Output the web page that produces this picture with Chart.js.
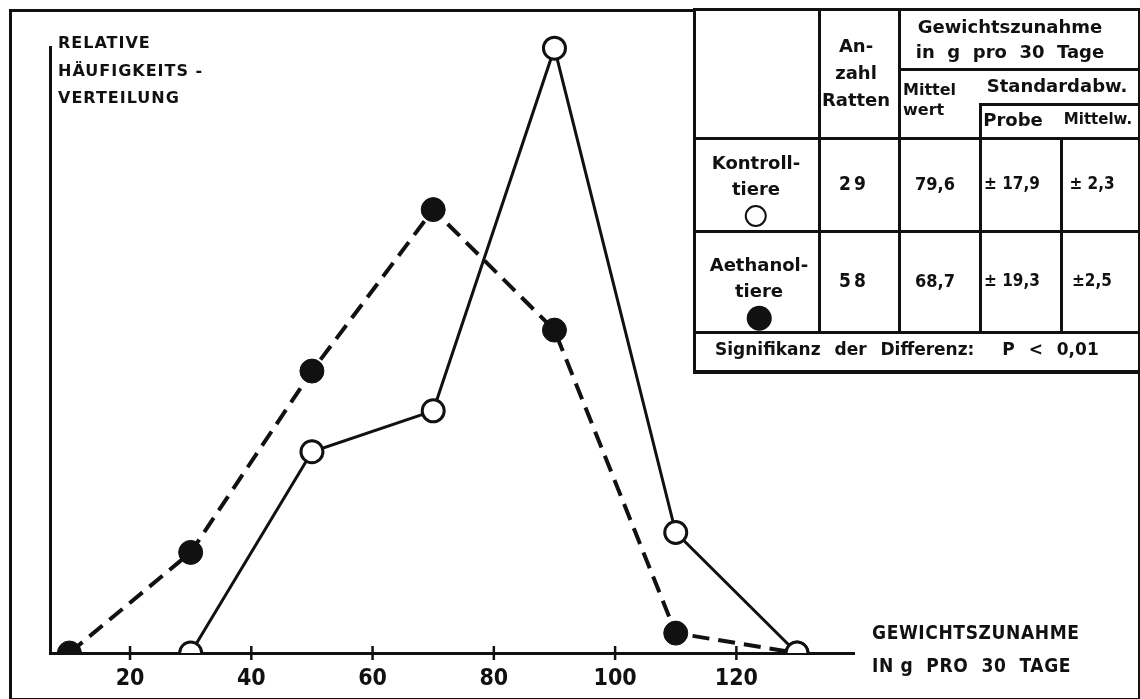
<!DOCTYPE html>
<html>
<head>
<meta charset="utf-8">
<script src="https://cdn.jsdelivr.net/npm/chart.js@4/dist/chart.umd.min.js"></script>
<style>
  html, body { margin: 0; padding: 0; background: #fff; }
  body { width: 1140px; height: 699px; position: relative; overflow: hidden;
         font-family: 'DejaVu Sans', sans-serif; font-weight: bold; color: #111; }
  #wrap { position: absolute; left: 0; top: 0; width: 1140px; height: 699px; }
  #frame { position: absolute; left: 9px; top: 9px; width: 1126px; height: 686px; border: 3px solid #111; pointer-events: none; }
  .lbl { position: absolute; white-space: pre; line-height: 1; }
  .ylab { left: 58px; top: 29px; font-size: 16px; line-height: 27.5px; letter-spacing: 1px; }
  .xlab { left: 872px; top: 616px; font-size: 19px; line-height: 33px; letter-spacing: 0.6px;
          font-family: 'DejaVu Sans Condensed', 'Liberation Sans Narrow', sans-serif; }
  #tab { position: absolute; left: 693px; top: 8px; width: 442px; height: 359px; border: 3px solid #111; border-bottom-width: 4px; background: #fff; }
  .v { position: absolute; width: 3px; background: #111; }
  .h { position: absolute; height: 3px; background: #111; }
  .c { position: absolute; transform: translate(-50%, -50%); text-align: center; white-space: pre; font-size: 18px; line-height: 25px; }
  .c.n { font-family: 'DejaVu Sans Condensed', 'Liberation Sans Narrow', sans-serif; font-size: 18px; }
  .l { position: absolute; white-space: pre; font-size: 16px; line-height: 20px; }
  .open { display: inline-block; width: 22px; height: 22px; border: 2.5px solid #111; border-radius: 50%; box-sizing: border-box; background: #fff; vertical-align: middle; }
  .fill { display: inline-block; width: 25px; height: 25px; border-radius: 50%; background: #111; vertical-align: middle; }
</style>
</head>
<body>
<div id="wrap"><canvas id="chart" width="1140" height="699"></canvas></div>
<div id="frame"></div>

<div class="lbl ylab">RELATIVE
HÄUFIGKEITS -
VERTEILUNG</div>
<div class="lbl xlab">GEWICHTSZUNAHME
IN g  PRO  30  TAGE</div>

<div id="tab">
  <div class="v" style="left:122px; top:0; height:321px"></div>
  <div class="v" style="left:202px; top:0; height:321px"></div>
  <div class="v" style="left:283px; top:92px; height:229px"></div>
  <div class="v" style="left:364px; top:126px; height:195px"></div>
  <div class="h" style="left:202px; top:57px; width:240px"></div>
  <div class="h" style="left:283px; top:92px; width:159px"></div>
  <div class="h" style="left:0; top:126px; width:442px"></div>
  <div class="h" style="left:0; top:219px; width:442px"></div>
  <div class="h" style="left:0; top:320px; width:442px"></div>

  <div class="c" style="left:160px; top:61px; line-height:27px">An-
zahl
Ratten</div>
  <div class="c" style="left:314px; top:28px">Gewichtszunahme
in  g  pro  30  Tage</div>
  <div class="l" style="left:207px; top:69px">Mittel
wert</div>
  <div class="c" style="left:361px; top:74px">Standardabw.</div>
  <div class="c" style="left:317px; top:108px">Probe</div>
  <div class="c" style="left:402px; top:108px; font-size:15px">Mittelw.</div>

  <div class="c" style="left:60px; top:178px; line-height:26px">Kontroll-
tiere
<span class="open"></span></div>
  <div class="c n" style="left:158px; top:172px; font-size:19px; letter-spacing:3px">29</div>
  <div class="c n" style="left:239px; top:172px">79,6</div>
  <div class="c n" style="left:316px; top:172px; font-size:17px">± 17,9</div>
  <div class="c n" style="left:396px; top:172px; font-size:17px">± 2,3</div>

  <div class="c" style="left:63px; top:280px; line-height:26px">Aethanol-
tiere
<span class="fill"></span></div>
  <div class="c n" style="left:158px; top:269px; font-size:19px; letter-spacing:3px">58</div>
  <div class="c n" style="left:239px; top:269px">68,7</div>
  <div class="c n" style="left:316px; top:269px; font-size:17px">± 19,3</div>
  <div class="c n" style="left:396px; top:269px; font-size:17px">±2,5</div>

  <div class="l" style="left:19px; top:328px; font-size:17px; line-height:21px; word-spacing:8px">Signifikanz der Differenz:  P &lt; 0,01</div>
</div>

<script>
// weight gain classes (g per 30 days) and relative frequency (%)
const weightClasses = [10, 30, 50, 70, 90, 110, 130];
const kontrollValues = [null, 0, 17.2, 20.7, 51.7, 10.3, 0];
const aethanolValues = [0, 8.6, 24.1, 37.9, 27.6, 1.7, 0];
const xTickValues = [20, 40, 60, 80, 100, 120];

const FONT = "'DejaVu Sans Condensed', 'Liberation Sans Narrow', sans-serif";

function toPoints(values) {
  return weightClasses
    .map((x, i) => ({ x: x, y: values[i] }))
    .filter(p => p.y !== null);
}

// small tick marks crossing the x axis line
const crossTicks = {
  id: 'crossTicks',
  afterDraw(chart) {
    const xs = chart.scales.x;
    const y = chart.chartArea.bottom;
    const ctx = chart.ctx;
    ctx.save();
    ctx.strokeStyle = '#111';
    ctx.lineWidth = 2.5;
    xs.ticks.forEach(t => {
      const px = xs.getPixelForValue(t.value);
      ctx.beginPath();
      ctx.moveTo(px, y - 7);
      ctx.lineTo(px, y + 7);
      ctx.stroke();
    });
    ctx.restore();
  }
};

// points sitting on the axis show only their upper half
const cutAtAxis = {
  id: 'cutAtAxis',
  beforeDatasetDraw(chart) {
    const ctx = chart.ctx;
    ctx.save();
    ctx.beginPath();
    ctx.rect(0, 0, chart.width, chart.chartArea.bottom);
    ctx.clip();
  },
  afterDatasetDraw(chart) {
    chart.ctx.restore();
  }
};

new Chart(document.getElementById('chart'), {
  type: 'line',
  data: {
    datasets: [
      {
        label: 'Kontrolltiere',
        data: toPoints(kontrollValues),
        borderColor: '#111',
        borderWidth: 3,
        pointRadius: 11,
        pointBorderWidth: 3,
        pointBackgroundColor: '#fff',
        pointBorderColor: '#111',
        tension: 0,
        clip: false
      },
      {
        label: 'Aethanoltiere',
        data: toPoints(aethanolValues),
        borderColor: '#111',
        borderWidth: 4,
        borderDash: [17, 9],
        pointRadius: 12,
        pointBorderWidth: 1,
        pointBackgroundColor: '#111',
        pointBorderColor: '#111',
        tension: 0,
        clip: false
      }
    ]
  },
  options: {
    responsive: false,
    animation: false,
    devicePixelRatio: 1,
    layout: { padding: { left: 50, right: 286, top: 47, bottom: 0 } },
    plugins: { legend: { display: false }, tooltip: { enabled: false } },
    scales: {
      x: {
        type: 'linear',
        min: 6.8,
        max: 139.4,
        afterFit: s => { s.height = 46; },
        afterBuildTicks: s => { s.ticks = xTickValues.map(v => ({ value: v })); },
        grid: { display: false, drawTicks: false },
        border: { display: true, color: '#111', width: 3 },
        ticks: {
          color: '#111',
          padding: 12,
          maxRotation: 0,
          font: { family: FONT, size: 23, weight: 'bold' }
        }
      },
      y: {
        min: 0,
        max: 51.8,
        afterFit: s => { s.width = 0; },
        grid: { display: false, drawTicks: false },
        border: { display: true, color: '#111', width: 3 },
        ticks: { display: false }
      }
    }
  },
  plugins: [crossTicks, cutAtAxis]
});
</script>
</body>
</html>
